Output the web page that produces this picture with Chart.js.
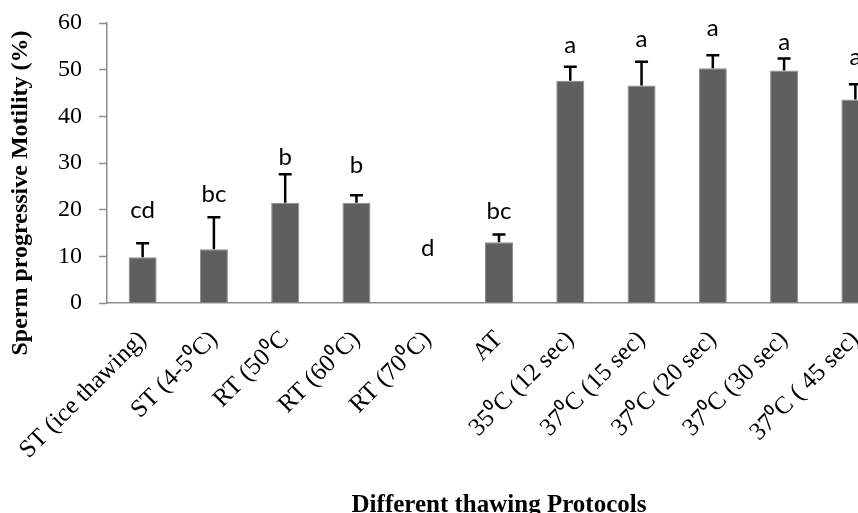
<!DOCTYPE html>
<html>
<head>
<meta charset="utf-8">
<script src="https://cdn.jsdelivr.net/npm/chart.js@4/dist/chart.umd.min.js"></script>
<style>
  html, body { margin: 0; padding: 0; overflow: hidden; background: #ffffff; }
  #wrap { width: 858px; height: 513px; overflow: hidden; position: relative; }
  canvas { display: block; }
</style>
</head>
<body>
<div id="wrap"><canvas id="c" width="891" height="513"></canvas></div>
<script>
// ---- data ----
const categories = ["ST (ice thawing)", "ST (4-5\u2070C)", "RT (50\u2070C", "RT (60\u2070C)", "RT (70\u2070C)", "AT",
                    "35\u2070C (12 sec)", "37\u2070C (15 sec)", "37\u2070C (20 sec)", "37\u2070C (30 sec)", "37\u2070C ( 45 sec)"];
const motility = [9.8, 11.5, 21.5, 21.5, 0, 13.0, 47.6, 46.6, 50.3, 49.8, 43.6];
const errorUp  = [3.0, 6.9, 6.1, 1.6, 0, 1.7, 3.0, 5.1, 2.8, 2.6, 3.3];
const letters  = ["cd", "bc", "b", "b", "d", "bc", "a", "a", "a", "a", "a"];
const letterAt = [18.2, 21.7, 29.6, 27.8, 10.1, 18.0, 53.5, 54.9, 57.2, 54.2, 51.0];
const yTicks   = [0, 10, 20, 30, 40, 50, 60];
const yTitle = "Sperm progressive Motility (%)";
const xTitle = "Different thawing Protocols";

const serif = "'Liberation Serif', 'Times New Roman', serif";

const extrasPlugin = {
  id: 'extras',
  afterDatasetsDraw(chart) {
    const ctx = chart.ctx;
    const meta = chart.getDatasetMeta(0);
    const y = chart.scales.y;
    ctx.save();
    // error bars (upper only)
    ctx.strokeStyle = '#000000';
    ctx.lineWidth = 2.5;
    meta.data.forEach((bar, i) => {
      if (!errorUp[i]) return;
      const x = bar.x;
      const y0 = y.getPixelForValue(motility[i]);
      const y1 = y.getPixelForValue(motility[i] + errorUp[i]);
      ctx.beginPath();
      ctx.moveTo(x, y0);
      ctx.lineTo(x, y1);
      ctx.moveTo(x - 6.5, y1);
      ctx.lineTo(x + 6.5, y1);
      ctx.stroke();
    });
    // significance letters
    ctx.fillStyle = '#000000';
    ctx.font = "24px Lato, 'Open Sans', sans-serif";
    ctx.textAlign = 'center';
    ctx.textBaseline = 'alphabetic';
    meta.data.forEach((bar, i) => {
      ctx.fillText(letters[i], bar.x, y.getPixelForValue(letterAt[i]));
    });
    // y axis title
    ctx.font = "bold 24px " + serif;
    ctx.textBaseline = 'middle';
    ctx.translate(21, (chart.chartArea.top + chart.chartArea.bottom) / 2 + 30);
    ctx.rotate(-Math.PI / 2);
    ctx.fillText(yTitle, 0, 0);
    ctx.restore();
  }
};

new Chart(document.getElementById('c'), {
  type: 'bar',
  data: {
    labels: categories,
    datasets: [{
      data: motility,
      backgroundColor: '#5f5f5f',
      borderColor: '#8c8c8c',
      borderWidth: 1,
      categoryPercentage: 1.0,
      barPercentage: 0.393
    }]
  },
  options: {
    responsive: false,
    animation: false,
    devicePixelRatio: 1,
    layout: { padding: { top: 23, right: 0, bottom: 0, left: 0 } },
    plugins: { legend: { display: false }, tooltip: { enabled: false } },
    scales: {
      x: {
        grid: { display: true, drawOnChartArea: false, drawTicks: false },
        border: { display: true, color: '#8c8c8c', width: 1.5 },
        ticks: {
          autoSkip: false, minRotation: 45, maxRotation: 45, padding: 22,
          color: '#000000', font: { family: serif, size: 25 }
        },
        title: {
          display: true, text: xTitle, color: '#000000',
          font: { family: serif, size: 25, weight: 'bold', lineHeight: 1 },
          padding: { top: 0, bottom: -5 }
        },
        afterFit(scale) {
          scale.height = 210;
          scale.paddingLeft = 0; scale.paddingRight = 0;
          scale.paddingTop = 0; scale.paddingBottom = 0;
        }
      },
      y: {
        min: 0, max: 60,
        afterBuildTicks(scale) { scale.ticks = yTicks.map(v => ({ value: v })); },
        grid: { display: true, drawOnChartArea: false, drawTicks: true, tickLength: 8, color: '#8c8c8c', tickWidth: 1.5 },
        border: { display: true, color: '#8c8c8c', width: 1.5 },
        ticks: { padding: 17, color: '#000000', font: { family: serif, size: 24 } },
        afterFit(scale) { scale.width = 107; scale.paddingTop = 0; scale.paddingBottom = 0; }
      }
    }
  },
  plugins: [extrasPlugin]
});
</script>
</body>
</html>
